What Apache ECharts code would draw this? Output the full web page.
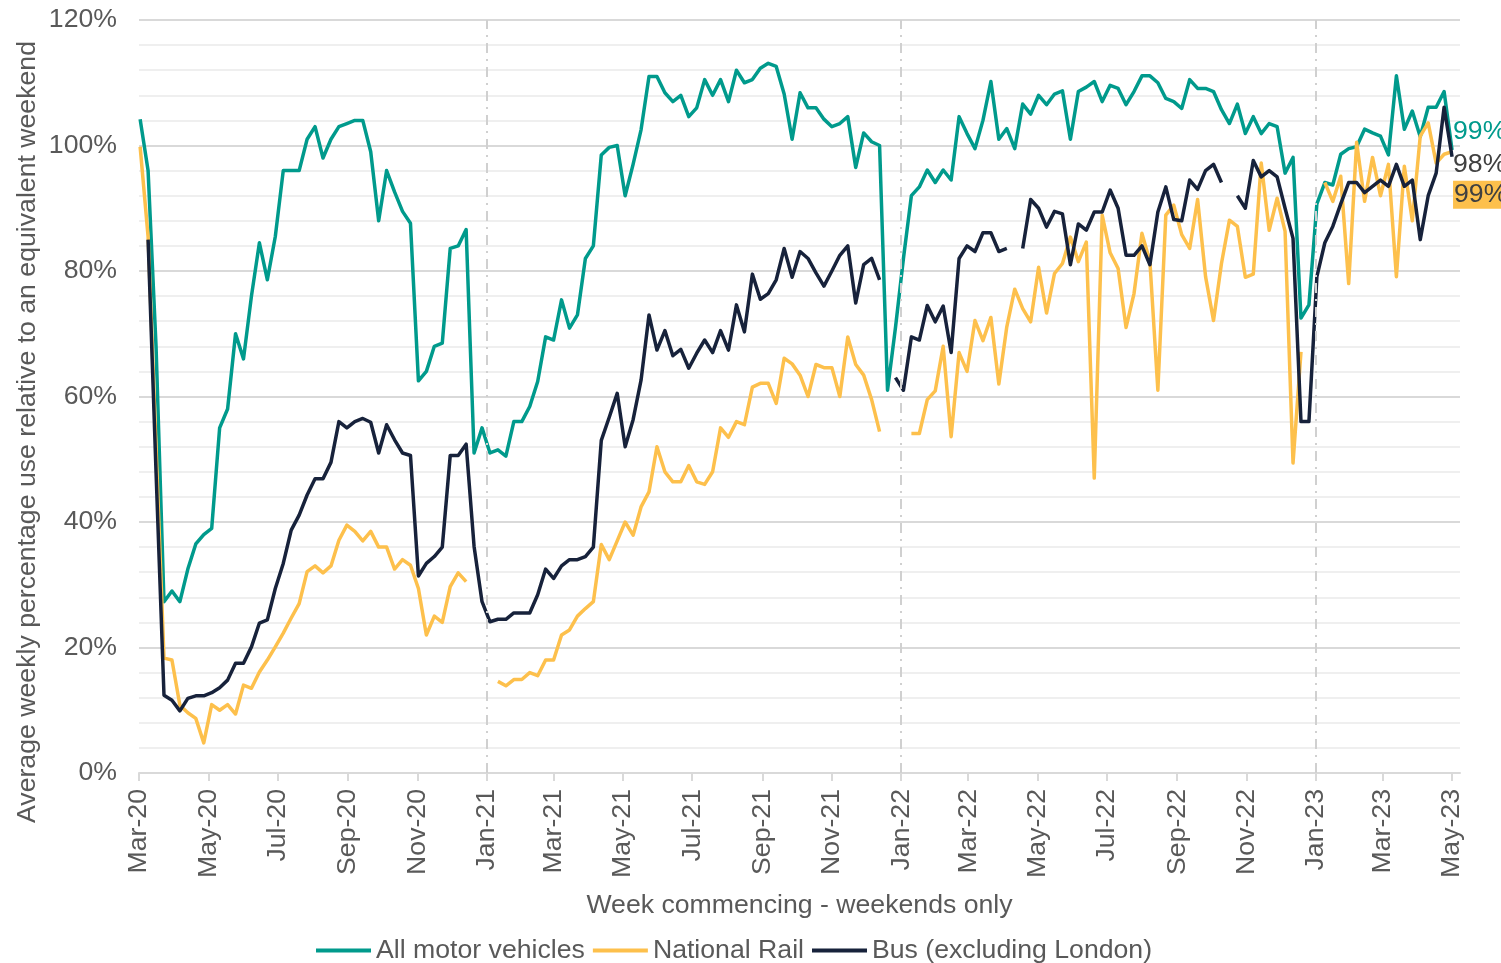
<!DOCTYPE html>
<html>
<head>
<meta charset="utf-8">
<title>Weekend transport use</title>
<script src="https://cdn.jsdelivr.net/npm/echarts@6/dist/echarts.min.js"></script>
<style>
  html, body { margin: 0; padding: 0; background: #fff; }
  #chart { width: 1501px; height: 963px; }
</style>
</head>
<body>
<div id="chart"></div>
<script>
// weekly values, week commencing 2 Mar 2020 .. 1 May 2023 (166 weeks)
var firstWeek = '2020-03-02'

var motorVehicles = [
  104.2, 96, 68, 27.3, 29, 27.3, 32.5, 36.5, 38, 39,
  55, 58, 70, 66, 76, 84.5, 78.6, 85.5, 96, 96,
  96, 101, 103, 98, 101, 103, 103.5, 104, 104, 99,
  88, 96, 92.6, 89.5, 87.6, 62.5, 64, 68, 68.5, 83.6,
  84, 86.6, 51, 55, 51, 51.5, 50.5, 56, 56, 58.4,
  62.4, 69.5, 69, 75.4, 70.9, 73, 82, 84, 98.5, 99.7,
  100, 92, 97, 102.5, 111, 111, 108.4, 107, 108, 104.6,
  106, 110.5, 108, 110.5, 107, 112, 110, 110.5, 112.3, 113.1,
  112.6, 108.2, 101, 108.4, 106, 106, 104.2, 103, 103.5, 104.6,
  96.5, 102, 100.6, 100, 61, 71, 82, 92, 93.4, 96.1,
  94.1, 96.1, 94.5, 104.6, 101.9, 99.5, 104, 110.2, 101, 102.7,
  99.5, 106.6, 105, 108, 106.5, 108.2, 108.7, 101, 108.6, 109.3,
  110.2, 107, 109.6, 109.1, 106.5, 108.6, 111.1, 111.1, 110, 107.5,
  107, 105.9, 110.5, 109.1, 109.1, 108.6, 105.7, 103.5, 106.6, 101.9,
  104.6, 101.9, 103.5, 103, 95.6, 98.1, 72.5, 74.6, 90.7, 94.1,
  93.7, 98.6, 99.5, 99.8, 102.6, 102, 101.5, 98.5, 111.1, 102.6,
  105.5, 101.4, 106.1, 106.1, 108.6, 99.3
]

var nationalRail = [
  99.8, 85.5, 52, 18.3, 18, 10.8, 9.6, 8.7, 4.8, 10.9,
  10, 10.9, 9.4, 14, 13.5, 16.1, 18, 20.1, 22.3, 24.7,
  27, 32.1, 33, 31.9, 33, 37.1, 39.5, 38.5, 37, 38.5,
  36, 36, 32.5, 34, 33.1, 29.4, 22, 25, 24, 29.7,
  31.9, 30.5, null, null, null, 14.6, 13.9, 14.9, 14.9, 16,
  15.5, 18, 18, 22, 22.8, 25, 26.2, 27.3, 36.4, 34,
  37, 40, 37.9, 42.4, 44.8, 52, 48, 46.4, 46.4, 49,
  46.4, 46, 48, 55, 53.5, 56, 55.5, 61.5, 62.1, 62.1,
  58.9, 66.1, 65.2, 63.4, 60, 65.1, 64.6, 64.6, 60, 69.5,
  65.1, 63.4, 59.5, 54.4, null, null, null, 54.1, 54.1, 59.5,
  60.9, 68, 53.6, 67, 64, 72.1, 68.9, 72.6, 62, 71.1,
  77.1, 74, 71.9, 80.6, 73.3, 79.6, 81.2, 85.4, 81.5, 84.6,
  47, 88.9, 82.9, 80.4, 71, 76.4, 86, 81.5, 61, 88.9,
  90.5, 85.8, 83.6, 91.4, 79.1, 72.1, 81.2, 88.1, 87.1, 79,
  79.5, 97.2, 86.5, 91.6, 86.3, 49.4, 67.1, null, null, 94.1,
  91.1, 95.1, 78, 100.5, 91.1, 98.1, 92, 97, 79.1, 96.7,
  88, 101.5, 103.6, 97.2, 98.6, 99
]

var busExLondon = [
  null, 85, 48, 12.4, 11.6, 9.9, 11.9, 12.3, 12.3, 12.8,
  13.6, 14.8, 17.5, 17.5, 20.1, 23.9, 24.4, 29.4, 33.4, 38.7,
  41.1, 44.3, 46.9, 46.9, 49.5, 56, 55, 56, 56.5, 55.9,
  51, 55.5, 53.1, 51, 50.6, 31.4, 33.4, 34.5, 36, 50.6,
  50.6, 52.4, 36.1, 27.3, 24.1, 24.5, 24.5, 25.5, 25.5, 25.5,
  28.4, 32.5, 31, 33, 34, 34, 34.5, 36, 53, 56.7,
  60.5, 52, 56.3, 62.6, 73, 67.4, 70.5, 66.5, 67.5, 64.5,
  66.9, 69, 67, 70.5, 67.4, 74.6, 70.3, 79.5, 75.5, 76.4,
  78.6, 83.6, 79, 83.1, 82, 79.7, 77.6, 80, 82.5, 84,
  74.9, 81, 82, 78.6, null, 63, 61, 69.5, 69, 74.5,
  71.9, 74.4, 67, 82, 84, 83.1, 86.1, 86.1, 83.1, 83.6,
  null, 83.6, 91.4, 90, 87, 89.5, 89.1, 81, 87.5, 86.5,
  89.4, 89.4, 92.9, 90, 82.5, 82.5, 84, 81, 89.4, 93.4,
  88.2, 88, 94.5, 93, 96, 97, 94.1, null, 92, 90,
  97.6, 95, 96, 95, 90, 85.2, 56, 56, 79.1, 84.5,
  87.1, 90.7, 94.1, 94.1, 92.5, 93.5, 94.5, 93.5, 97, 93.5,
  94.5, 85, 92, 95.6, 106.1, 98.2
]

var seriesNames = ['All motor vehicles', 'National Rail', 'Bus (excluding London)']
var seriesColors = ['#009a8c', '#fdc04c', '#17223b']
var endLabels = ['99%', '99%', '98%']

var tickDates = [
  '2020-03-01', '2020-05-01', '2020-07-01', '2020-09-01', '2020-11-01',
  '2021-01-01', '2021-03-01', '2021-05-01', '2021-07-01', '2021-09-01', '2021-11-01',
  '2022-01-01', '2022-03-01', '2022-05-01', '2022-07-01', '2022-09-01', '2022-11-01',
  '2023-01-01', '2023-03-01', '2023-05-01'
]
var tickLabels = [
  'Mar-20', 'May-20', 'Jul-20', 'Sep-20', 'Nov-20',
  'Jan-21', 'Mar-21', 'May-21', 'Jul-21', 'Sep-21', 'Nov-21',
  'Jan-22', 'Mar-22', 'May-22', 'Jul-22', 'Sep-22', 'Nov-22',
  'Jan-23', 'Mar-23', 'May-23'
]
var yearLines = ['2021-01-01', '2022-01-01', '2023-01-01']
var yTicks = [0, 20, 40, 60, 80, 100, 120]

// x axis is a plain day count from 1 Mar 2020
var origin = Date.UTC(2020, 2, 1)
function toDay(s) {
  var p = s.split('-')
  return Math.round((Date.UTC(+p[0], +p[1] - 1, +p[2]) - origin) / 86400000)
}

var firstDay = toDay(firstWeek)
var tickDays = tickDates.map(toDay)

var font = "'Liberation Sans', Arial, sans-serif"
var fontSize = 26.67
var grey = '#595959'

function pairs(arr) {
  return arr.map(function (v, i) { return [firstDay + 7 * i, v] })
}

var endOffsets = [[0, -18], [0, 43], [0, 8]]

var lineSeries = [motorVehicles, nationalRail, busExLondon].map(function (arr, k) {
  return {
    name: seriesNames[k],
    type: 'line',
    data: pairs(arr),
    showSymbol: false,
    connectNulls: false,
    lineStyle: { width: 3.5, color: seriesColors[k], join: 'round' },
    itemStyle: { color: seriesColors[k] },
    z: 2 + k,
    endLabel: {
      show: true,
      formatter: endLabels[k],
      distance: 1,
      offset: endOffsets[k],
      fontSize: fontSize,
      fontFamily: font,
      color: k === 0 ? seriesColors[0] : '#404040',
      backgroundColor: k === 1 ? seriesColors[1] : 'transparent',
      padding: k === 1 ? [1, 1, 0, 1] : 0
    }
  }
})

// dash-dot year dividers, drawn over the lines
var dividers = []
yearLines.forEach(function (d) {
  var t = toDay(d)
  dividers.push({ xAxis: t, lineStyle: { color: '#d0d0d0', width: 2, type: [10, 6, 2, 6] } })
  dividers.push([
    { coord: [t, -0.6], lineStyle: { color: grey, width: 3, type: 'solid' } },
    { coord: [t, 1.1] }
  ])
})

lineSeries.push({
  name: 'dividers',
  type: 'line',
  data: [],
  z: 10,
  silent: true,
  markLine: {
    silent: true,
    symbol: 'none',
    label: { show: false },
    animation: false,
    data: dividers
  }
})

var chart = echarts.init(document.getElementById('chart'))
chart.setOption({
  animation: false,
  backgroundColor: '#fff',
  textStyle: { fontFamily: font },
  grid: { left: 139, right: 41, top: 20, bottom: 190, containLabel: false, outerBoundsMode: 'none' },
  legend: {
    data: seriesNames,
    left: 311,
    top: 932,
    icon: 'rect',
    itemWidth: 55,
    itemHeight: 4,
    itemGap: 8,
    textStyle: { fontSize: fontSize, color: grey, fontFamily: font }
  },
  xAxis: {
    type: 'value',
    min: 0,
    max: toDay('2023-05-08'),
    name: 'Week commencing - weekends only',
    nameLocation: 'middle',
    nameGap: 119,
    nameTextStyle: { fontSize: fontSize, color: grey, fontFamily: font },
    axisLine: { lineStyle: { color: '#d9d9d9', width: 2 } },
    axisTick: { show: true, length: 8, lineStyle: { color: '#d9d9d9', width: 2 }, customValues: tickDays },
    axisLabel: {
      customValues: tickDays,
      rotate: 90,
      margin: 16,
      fontSize: fontSize,
      color: grey,
      fontFamily: font,
      formatter: function (val) {
        var idx = tickDays.indexOf(Math.round(val))
        return idx >= 0 ? tickLabels[idx] : ''
      }
    },
    splitLine: { show: false }
  },
  yAxis: {
    type: 'value',
    min: 0,
    max: 120,
    interval: 4,
    axisLine: { show: false },
    axisTick: { show: false },
    axisLabel: {
      customValues: yTicks,
      margin: 22,
      fontSize: fontSize,
      color: grey,
      fontFamily: font,
      formatter: function (v) { return v + '%' }
    },
    splitLine: {
      lineStyle: { color: ['#d9d9d9', '#efefef', '#efefef', '#efefef', '#efefef'], width: 2 }
    }
  },
  graphic: [{
    type: 'text',
    x: 28,
    y: 432,
    rotation: Math.PI / 2,
    style: {
      text: 'Average weekly percentage use relative to an equivalent weekend',
      font: fontSize + 'px ' + font,
      fill: grey,
      align: 'center',
      verticalAlign: 'middle'
    }
  }],
  series: lineSeries
})
</script>
</body>
</html>
